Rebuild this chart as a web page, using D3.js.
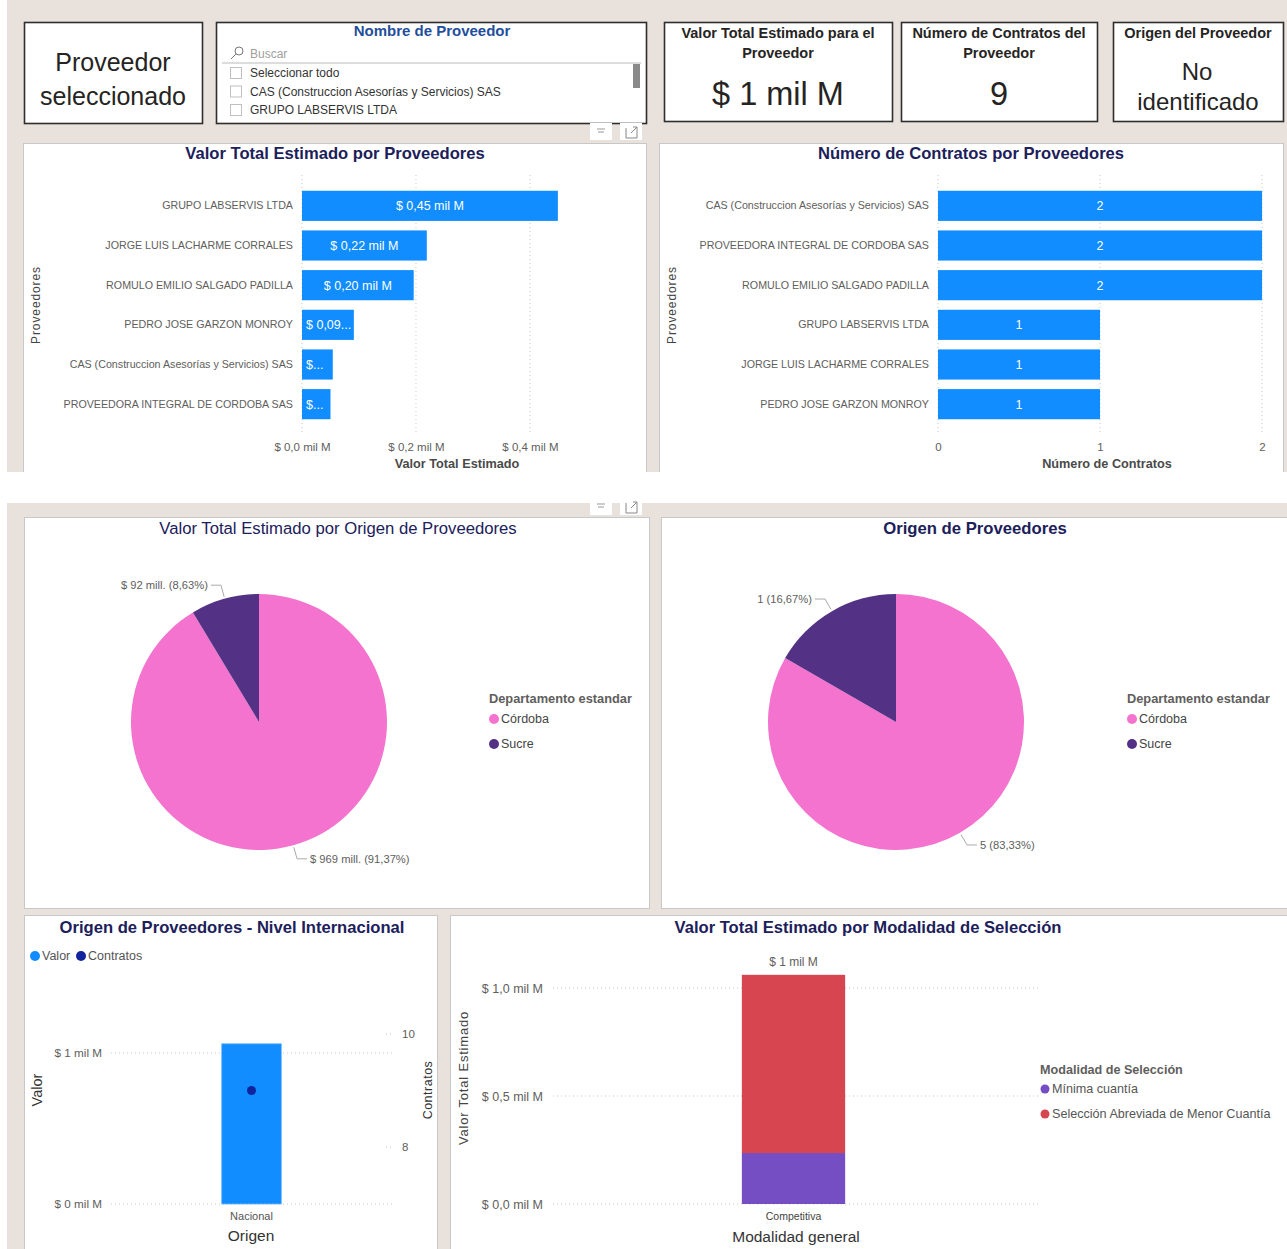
<!DOCTYPE html>
<meta charset="utf-8">
<title>Proveedores - tablero</title>
<style>
  body { margin: 0; background: #fff; }
  svg text { font-family: "Liberation Sans", Arial, sans-serif; }
</style>
<body>
<script src="https://cdn.jsdelivr.net/npm/d3@7"></script>
<script>

var provValor = ["GRUPO LABSERVIS LTDA", "JORGE LUIS LACHARME CORRALES", "ROMULO EMILIO SALGADO PADILLA",
  "PEDRO JOSE GARZON MONROY", "CAS (Construccion Asesorías y Servicios) SAS", "PROVEEDORA INTEGRAL DE CORDOBA SAS"];
var valorMilM = [0.449, 0.219, 0.196, 0.091, 0.054, 0.050];
var valorTicks = [0, 0.2, 0.4];

var provContratos = ["CAS (Construccion Asesorías y Servicios) SAS", "PROVEEDORA INTEGRAL DE CORDOBA SAS",
  "ROMULO EMILIO SALGADO PADILLA", "GRUPO LABSERVIS LTDA", "JORGE LUIS LACHARME CORRALES", "PEDRO JOSE GARZON MONROY"];
var numContratos = [2, 2, 2, 1, 1, 1];
var contratosTicks = [0, 1, 2];

var slicerItems = ["Seleccionar todo", "CAS (Construccion Asesorías y Servicios) SAS", "GRUPO LABSERVIS LTDA"];

var deptos = ["Córdoba", "Sucre"];
var valorDeptoMill = [969.4, 91.6];
var provPorDepto = [5, 1];

var origenes = ["Nacional"];
var origenValor = [1.061];
var origenContratos = [9];
var origenValorTicks = [0, 1];
var origenContratosTicks = [8, 10];

var modalidadGeneral = ["Competitiva"];
var modalidades = ["Mínima cuantía", "Selección Abreviada de Menor Cuantía"];
var modalidadValor = [0.236, 0.825];
var modalidadTicks = [0, 0.5, 1.0];

// ---- estilos ----
var beige = "#e9e1dc", navy = "#1c205a", gris = "#605e5c", azul = "#118dff";
var colDepto = ["#f373cf", "#533285"];
var colModal = ["#744ec2", "#d64550"];
var tituloSize = 16.6;

var es = d3.formatLocale({decimal: ",", thousands: ".", grouping: [3], currency: ["$ ", ""]});
var f0 = es.format(".0f"), f1 = es.format(".1f"), f2 = es.format(".2f");

var svg = d3.select("body").append("svg").attr("width", 1287).attr("height", 1249);

function txt(x, y, s, size, o) {
  o = o || {};
  return svg.append("text").attr("x", x).attr("y", y).attr("dy", "0.35em")
    .attr("text-anchor", o.anchor || "middle")
    .attr("font-size", size)
    .attr("font-weight", o.bold ? "bold" : null)
    .attr("letter-spacing", o.ls || null)
    .attr("fill", o.fill || "#252423")
    .attr("transform", o.rot ? "rotate(-90," + x + "," + y + ")" : null)
    .text(s);
}
function panel(x, y, w, h, dark) {
  svg.append("rect").attr("x", x + 0.5).attr("y", y + 0.5).attr("width", w).attr("height", h)
    .attr("fill", "#fff").attr("stroke", dark ? "#2e2e2e" : "#c8c8c8").attr("stroke-width", dark ? 1.6 : 1);
}
function icons(x, y) {
  // iconos de filtro / enfoque de Power BI
  svg.append("rect").attr("x", x).attr("y", y).attr("width", 22).attr("height", 17).attr("fill", "#fff");
  svg.append("rect").attr("x", x + 30).attr("y", y).attr("width", 22).attr("height", 17).attr("fill", "#fff");
  svg.append("path").attr("d", "M" + (x + 7) + "," + (y + 6) + "h8M" + (x + 8) + "," + (y + 9) + "h6")
    .attr("stroke", "#999").attr("stroke-width", 1);
  svg.append("path").attr("d", "M" + (x + 36) + "," + (y + 5) + "v10h11v-7M" + (x + 41) + "," + (y + 10) + "l6,-6M" + (x + 43) + "," + (y + 4) + "h4v4")
    .attr("fill", "none").attr("stroke", "#888").attr("stroke-width", 1);
}
function estiloEje(sel, size, fill) {
  sel.select(".domain").remove();
  sel.selectAll("text").attr("font-size", size).attr("fill", fill || gris).attr("font-family", null);
}

// fondos
svg.append("rect").attr("x", 7).attr("y", 0).attr("width", 1280).attr("height", 472).attr("fill", beige);
svg.append("rect").attr("x", 7).attr("y", 503).attr("width", 1280).attr("height", 746).attr("fill", beige);

// ---- tarjetas superiores ----
panel(24, 22, 178, 101, true);
txt(113, 62, "Proveedor", 25);
txt(113, 96, "seleccionado", 25);

panel(216, 22, 430, 101, true);
txt(432, 31, "Nombre de Proveedor", 15, {bold: true, fill: "#1f4e9c"});
svg.append("circle").attr("cx", 239).attr("cy", 51).attr("r", 4).attr("fill", "none").attr("stroke", "#777");
svg.append("line").attr("x1", 236).attr("y1", 54).attr("x2", 231).attr("y2", 59).attr("stroke", "#777");
txt(250, 54, "Buscar", 12, {anchor: "start", fill: "#a0a0a0"});
svg.append("line").attr("x1", 222).attr("x2", 641).attr("y1", 63).attr("y2", 63).attr("stroke", "#d0d0d0").attr("stroke-width", 1.5);
svg.append("rect").attr("x", 633).attr("y", 64).attr("width", 7).attr("height", 24).attr("fill", "#8a8a8a");
slicerItems.forEach(function(s, i) {
  var yy = 73 + i * 18.5;
  svg.append("rect").attr("x", 230.5).attr("y", yy - 5.5).attr("width", 11).attr("height", 11)
    .attr("fill", "#fff").attr("stroke", "#c0c0c0");
  txt(250, yy, s, 12, {anchor: "start", fill: "#333"});
});
icons(590, 123);

panel(664, 22, 228, 99, true);
txt(778, 33, "Valor Total Estimado para el", 14.5, {bold: true});
txt(778, 53, "Proveedor", 14.5, {bold: true});
txt(778, 94, "$ " + f0(d3.sum(valorMilM)) + " mil M", 32.5);

panel(901, 22, 196, 99, true);
txt(999, 33, "Número de Contratos del", 14.5, {bold: true});
txt(999, 53, "Proveedor", 14.5, {bold: true});
txt(999, 94, d3.sum(numContratos), 32.5);

panel(1113, 22, 170, 99, true);
txt(1198, 33, "Origen del Proveedor", 14.5, {bold: true});
txt(1197, 72, "No", 24);
txt(1198, 102, "identificado", 24);

// ---- barras horizontales ----
function hbar(c) {
  panel(c.px, 143, c.pw, 340);
  txt(c.tx, 153, c.title, tituloSize, {bold: true, fill: navy});
  var g = svg.append("g");
  var x = d3.scaleLinear().domain([0, c.max]).range([c.x0, c.x1]);
  var y = d3.scaleBand().domain(c.cats).range([186, 424]).paddingInner(0.24).paddingOuter(0.12);

  g.selectAll("line.grid").data(c.ticks).join("line").attr("class", "grid")
    .attr("x1", x).attr("x2", x).attr("y1", 175).attr("y2", 432)
    .attr("stroke", "#c8c8c8").attr("stroke-dasharray", "1,3");

  g.selectAll("rect.bar").data(c.vals).join("rect").attr("class", "bar")
    .attr("x", x(0)).attr("y", function(d, i) { return y(c.cats[i]); })
    .attr("width", function(d) { return x(d) - x(0); }).attr("height", y.bandwidth())
    .attr("fill", azul);

  // etiquetas de datos, truncadas si no caben
  g.selectAll("text.lbl").data(c.vals).join("text").attr("class", "lbl")
    .attr("y", function(d, i) { return y(c.cats[i]) + y.bandwidth() / 2; }).attr("dy", "0.35em")
    .attr("font-size", 12.5).attr("fill", "#fff")
    .each(function(d) {
      var t = d3.select(this), full = c.fmt(d), avail = x(d) - x(0) - 5;
      t.text(full);
      if (this.getComputedTextLength() <= avail) {
        t.attr("x", (x(0) + x(d)) / 2).attr("text-anchor", "middle");
      } else {
        var s = full;
        while (s.length > 0 && this.getComputedTextLength() > avail) {
          s = s.slice(0, -1);
          t.text(s.replace(/\s+$/, "") + "...");
        }
        t.attr("x", x(0) + 4).attr("text-anchor", "start");
      }
    });

  var ya = g.append("g").attr("transform", "translate(" + x(0) + ",0)")
    .call(d3.axisLeft(y).tickSize(0).tickPadding(9));
  estiloEje(ya, 10.7);

  var xa = g.append("g").attr("transform", "translate(0,439)")
    .call(d3.axisBottom(x).tickValues(c.ticks).tickFormat(c.tickFmt).tickSize(0).tickPadding(4));
  estiloEje(xa, 11.5);

  txt((c.x0 + c.x1) / 2, 464, c.xTitle, 12.7, {bold: true, fill: "#4a4a4a"});
  txt(c.px + 13, 305, "Proveedores", 12, {rot: true, fill: "#444", ls: 0.9});
}

hbar({px: 23, pw: 623, tx: 335, title: "Valor Total Estimado por Proveedores",
  cats: provValor, vals: valorMilM, max: 0.544, x0: 302, x1: 612, ticks: valorTicks,
  tickFmt: function(v) { return "$ " + f1(v) + " mil M"; },
  fmt: function(v) { return "$ " + f2(v) + " mil M"; }, xTitle: "Valor Total Estimado"});

hbar({px: 659, pw: 624, tx: 971, title: "Número de Contratos por Proveedores",
  cats: provContratos, vals: numContratos, max: 2.086, x0: 938, x1: 1276, ticks: contratosTicks,
  tickFmt: f0, fmt: f0, xTitle: "Número de Contratos"});

// franja blanca entre secciones
svg.append("rect").attr("x", 0).attr("y", 472).attr("width", 1287).attr("height", 31).attr("fill", "#fff");
svg.append("rect").attr("x", 0).attr("y", 0).attr("width", 7).attr("height", 1249).attr("fill", "#fff");

// ---- tortas ----
function torta(c) {
  panel(c.px, 517, c.pw, 391);
  txt(c.tx, 528, c.title, 16.7, {bold: c.bold, fill: navy});
  var g = svg.append("g").attr("transform", "translate(" + c.cx + ",722)");
  var r = 128;
  var tot = d3.sum(c.vals);
  var arcs = d3.pie().sort(null)(c.vals);
  var arc = d3.arc().innerRadius(0).outerRadius(r);
  g.selectAll("path").data(arcs).join("path").attr("d", arc)
    .attr("fill", function(d, i) { return colDepto[i]; });

  arcs.forEach(function(d, i) {
    var a = (d.startAngle + d.endAngle) / 2;
    var sx = Math.sin(a), sy = -Math.cos(a);
    var p1 = [sx * (r + 2), sy * (r + 2)], p2 = [sx * (r + 14), sy * (r + 14)];
    var dir = sx < 0 ? -1 : 1;
    var p3 = [p2[0] + dir * 10, p2[1]];
    g.append("path").attr("d", "M" + p1 + "L" + p2 + "L" + p3)
      .attr("fill", "none").attr("stroke", "#aaa");
    g.append("text").attr("x", p3[0] + dir * 3).attr("y", p3[1]).attr("dy", "0.35em")
      .attr("text-anchor", dir < 0 ? "end" : "start").attr("font-size", 11.2).attr("fill", gris)
      .text(c.fmt(d.data) + " (" + f2(d.data / tot * 100) + "%)");
  });

  txt(c.lx, 699, "Departamento estandar", 12.8, {anchor: "start", bold: true, fill: gris});
  deptos.forEach(function(s, i) {
    svg.append("circle").attr("cx", c.lx + 5).attr("cy", 719 + i * 25).attr("r", 5).attr("fill", colDepto[i]);
    txt(c.lx + 12, 719 + i * 25, s, 12.5, {anchor: "start", fill: "#444"});
  });
}

torta({px: 24, pw: 625, tx: 338, title: "Valor Total Estimado por Origen de Proveedores", bold: false,
  cx: 259, vals: valorDeptoMill, lx: 489, fmt: function(v) { return "$ " + f0(v) + " mill."; }});
torta({px: 661, pw: 640, tx: 975, title: "Origen de Proveedores", bold: true,
  cx: 896, vals: provPorDepto, lx: 1127, fmt: f0});
icons(590, 498);

// ---- combinado: origen nacional/internacional ----
panel(24, 915, 413, 350);
txt(232, 927, "Origen de Proveedores - Nivel Internacional", tituloSize, {bold: true, fill: navy});
svg.append("circle").attr("cx", 35).attr("cy", 956).attr("r", 5).attr("fill", azul);
txt(42, 956, "Valor", 12.5, {anchor: "start", fill: "#555"});
svg.append("circle").attr("cx", 81).attr("cy", 956).attr("r", 5).attr("fill", "#12239e");
txt(88, 956, "Contratos", 12.5, {anchor: "start", fill: "#555"});

var ox = d3.scaleBand().domain(origenes).range([111, 392]).paddingInner(0.65).paddingOuter(0.65);
var oy = d3.scaleLinear().domain([0, 1]).range([1204, 1053]);
var oy2 = d3.scaleLinear().domain([8, 10]).range([1147, 1034]);
var cg = svg.append("g");
cg.selectAll("line.grid").data(origenValorTicks).join("line")
  .attr("x1", 111).attr("x2", 392).attr("y1", oy).attr("y2", oy)
  .attr("stroke", "#c8c8c8").attr("stroke-dasharray", "1,3");
cg.selectAll("line.grid2").data(origenContratosTicks).join("line")
  .attr("x1", 386).attr("x2", 394).attr("y1", oy2).attr("y2", oy2)
  .attr("stroke", "#c8c8c8").attr("stroke-dasharray", "1,3");
cg.selectAll("rect").data(origenValor).join("rect")
  .attr("x", function(d, i) { return ox(origenes[i]); }).attr("width", ox.bandwidth())
  .attr("y", oy).attr("height", function(d) { return oy(0) - oy(d); })
  .attr("fill", azul).attr("stroke", "#6fb8ff").attr("stroke-width", 0.8);
cg.selectAll("circle").data(origenContratos).join("circle")
  .attr("cx", function(d, i) { return ox(origenes[i]) + ox.bandwidth() / 2; })
  .attr("cy", oy2).attr("r", 4.5).attr("fill", "#12239e");
var la = cg.append("g").attr("transform", "translate(102,0)")
  .call(d3.axisLeft(oy).tickValues(origenValorTicks).tickSize(0).tickPadding(0)
    .tickFormat(function(v) { return "$ " + f0(v) + " mil M"; }));
estiloEje(la, 11.7);
var ra = cg.append("g").attr("transform", "translate(402,0)")
  .call(d3.axisRight(oy2).tickValues(origenContratosTicks).tickFormat(f0).tickSize(0).tickPadding(0));
estiloEje(ra, 11.5);
var ba = cg.append("g").attr("transform", "translate(0,1212)")
  .call(d3.axisBottom(ox).tickSize(0).tickPadding(0));
estiloEje(ba, 11, "#555");
txt(251, 1236, "Origen", 15.5, {fill: "#333"});
txt(37, 1090, "Valor", 14.5, {rot: true, fill: "#333"});
txt(428, 1090, "Contratos", 12.5, {rot: true, fill: "#333", ls: 0.5});

// ---- apilado por modalidad ----
panel(450, 915, 850, 350);
txt(868, 927, "Valor Total Estimado por Modalidad de Selección", tituloSize, {bold: true, fill: navy});
var mx = d3.scaleBand().domain(modalidadGeneral).range([550, 1037]).paddingInner(0.65).paddingOuter(0.65);
var my = d3.scaleLinear().domain([0, 1]).range([1204, 988]);
var fila = {general: modalidadGeneral[0]};
modalidades.forEach(function(m, i) { fila[m] = modalidadValor[i]; });
var capas = d3.stack().keys(modalidades)([fila]);
var sg = svg.append("g");
sg.selectAll("line.grid").data(modalidadTicks).join("line")
  .attr("x1", 553).attr("x2", 1040).attr("y1", my).attr("y2", my)
  .attr("stroke", "#c8c8c8").attr("stroke-dasharray", "1,3");
sg.selectAll("g.capa").data(capas).join("g").attr("fill", function(d, i) { return colModal[i]; })
  .selectAll("rect").data(function(d) { return d; }).join("rect")
  .attr("x", function(d) { return mx(d.data.general); }).attr("width", mx.bandwidth())
  .attr("y", function(d) { return my(d[1]); }).attr("height", function(d) { return my(d[0]) - my(d[1]); });
var totMod = d3.sum(modalidadValor);
txt(mx(modalidadGeneral[0]) + mx.bandwidth() / 2, my(totMod) - 13, "$ " + f0(totMod) + " mil M", 12, {fill: gris});
var ma = sg.append("g").attr("transform", "translate(543,0)")
  .call(d3.axisLeft(my).tickValues(modalidadTicks).tickSize(0).tickPadding(0)
    .tickFormat(function(v) { return "$ " + f1(v) + " mil M"; }));
estiloEje(ma, 12.5);
var mb = sg.append("g").attr("transform", "translate(0,1213)")
  .call(d3.axisBottom(mx).tickSize(0).tickPadding(0));
estiloEje(mb, 10.5, "#444");
txt(796, 1237, "Modalidad general", 15.5, {fill: "#333"});
txt(463, 1078, "Valor Total Estimado", 13, {rot: true, fill: "#444", ls: 0.8});

txt(1040, 1070, "Modalidad de Selección", 12.6, {anchor: "start", bold: true, fill: gris});
modalidades.forEach(function(m, i) {
  svg.append("circle").attr("cx", 1045).attr("cy", 1089 + i * 25).attr("r", 4.5).attr("fill", colModal[i]);
  txt(1052, 1089 + i * 25, m, 12.6, {anchor: "start", fill: "#555"});
});
</script>
